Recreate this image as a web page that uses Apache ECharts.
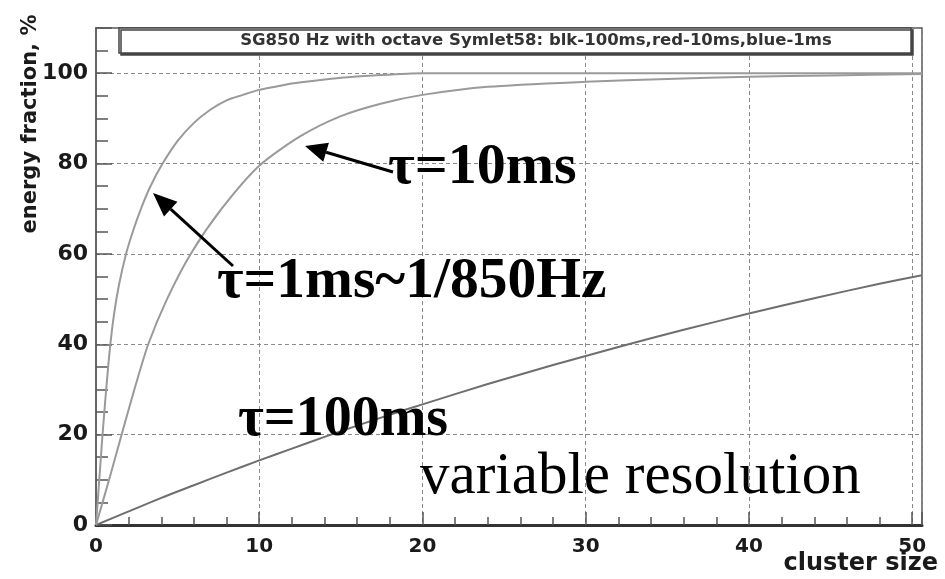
<!DOCTYPE html>
<html>
<head>
<meta charset="utf-8">
<script src="https://cdn.jsdelivr.net/npm/echarts@6/dist/echarts.min.js"></script>
<style>
  html, body { margin: 0; padding: 0; background: #fff; }
  #chart { width: 945px; height: 579px; }
</style>
</head>
<body>
<div id="chart"></div>
<script>
// Energy fraction captured vs. cluster size for three time scales
const tau1msX = [0, 0.2, 0.4, 0.6, 0.85, 1.1, 1.4, 1.84, 2.3, 2.8, 3.3, 4, 5, 6, 7, 8, 9, 10, 11, 12, 13.5, 15, 17, 20, 30, 40, 50.6];
const tau1msY = [0, 10, 20, 29, 39, 46.5, 53, 60, 65.4, 70.4, 74.7, 79.5, 85, 89, 91.9, 94, 95.2, 96.3, 97, 97.7, 98.4, 99.0, 99.5, 100, 100, 100, 100];

const tau10msX = [0, 0.8, 1.57, 2.35, 3.2, 4.35, 5.8, 7.7, 10, 12.5, 15, 17.5, 20, 24, 30, 35, 40, 45, 50.6];
const tau10msY = [0, 10, 20, 30, 40, 50, 60, 70, 79.5, 86, 90.5, 93.3, 95.2, 97, 98.1, 98.7, 99.2, 99.5, 99.8];

const tau100msX = [0, 2, 4, 6, 8, 10, 12, 14, 16, 18, 20, 24, 28, 32, 36, 40, 44, 48, 50.6];
const tau100msY = [0, 3.0, 6.0, 8.8, 11.6, 14.3, 16.9, 19.5, 22.0, 24.4, 26.7, 31.2, 35.4, 39.4, 43.2, 46.8, 50.2, 53.4, 55.3];

const xTickLabels = [0, 10, 20, 30, 40, 50];
const yTickLabels = [0, 20, 40, 60, 80, 100];

const titleText = 'SG850 Hz with octave Symlet58: blk-100ms,red-10ms,blue-1ms';
const xName = 'cluster size';
const yName = 'energy fraction, %';

const pairs = (xs, ys) => xs.map((x, i) => [x, ys[i]]);

const rootFont = '"DejaVu Sans", Arial, sans-serif';
const serifFont = '"Liberation Serif", "Times New Roman", serif';

// arrow: shaft from tail to tip, filled triangular head at the tip
function arrow(tail, tip, headLen, headHalf) {
  const dx = tip[0] - tail[0], dy = tip[1] - tail[1];
  const len = Math.hypot(dx, dy);
  const ux = dx / len, uy = dy / len;
  const bx = tip[0] - ux * headLen, by = tip[1] - uy * headLen;
  const nx = -uy * headHalf, ny = ux * headHalf;
  return [
    { type: 'line', shape: { x1: tail[0], y1: tail[1], x2: bx, y2: by },
      style: { stroke: '#000', lineWidth: 3 }, z: 100 },
    { type: 'polygon', shape: { points: [tip, [bx + nx, by + ny], [bx - nx, by - ny]] },
      style: { fill: '#000' }, z: 100 }
  ];
}

const chart = echarts.init(document.getElementById('chart'), null, { renderer: 'canvas' });

const option = {
  backgroundColor: '#fff',
  animation: false,
  grid: {
    left: 96, right: 23, top: 28, bottom: 54,
    show: true, borderColor: '#555', borderWidth: 1.5, backgroundColor: 'transparent'
  },
  xAxis: {
    type: 'value', min: 0, max: 50.6, interval: 10,
    axisLine: { lineStyle: { color: '#333', width: 3 } },
    axisTick: { inside: true, length: 13, lineStyle: { color: '#555', width: 1.5 } },
    minorTick: { show: true, splitNumber: 5, length: 8, lineStyle: { color: '#555', width: 1.5 } },
    splitLine: { show: true, lineStyle: { color: '#8a8a8a', width: 1, type: [4, 3] } },
    axisLabel: {
      margin: 12, color: '#1a1a1a', fontFamily: rootFont, fontWeight: 'bold', fontSize: 20,
      formatter: v => (xTickLabels.indexOf(v) >= 0 ? String(v) : '')
    }
  },
  yAxis: {
    type: 'value', min: 0, max: 110, interval: 20,
    axisLine: { show: true, lineStyle: { color: '#666', width: 2 } },
    axisTick: { show: true, inside: true, length: 16, lineStyle: { color: '#555', width: 1.5 } },
    minorTick: { show: true, splitNumber: 4, length: 12, lineStyle: { color: '#555', width: 1.5 } },
    splitLine: { show: true, lineStyle: { color: '#8a8a8a', width: 1, type: [4, 3] } },
    axisLabel: {
      margin: 8, color: '#1a1a1a', fontFamily: rootFont, fontWeight: 'bold', fontSize: 22,
      formatter: v => (yTickLabels.indexOf(v) >= 0 ? String(v) : '')
    }
  },
  series: [
    {
      name: '100ms', type: 'line', data: pairs(tau100msX, tau100msY),
      showSymbol: false, smooth: 0.25,
      lineStyle: { color: '#6e6e6e', width: 2 }, z: 5
    },
    {
      name: '10ms', type: 'line', data: pairs(tau10msX, tau10msY),
      showSymbol: false, smooth: 0.25,
      lineStyle: { color: '#9a9a9a', width: 2 }, z: 5
    },
    {
      name: '1ms', type: 'line', data: pairs(tau1msX, tau1msY),
      showSymbol: false, smooth: 0.25,
      lineStyle: { color: '#9a9a9a', width: 2 }, z: 5
    }
  ],
  graphic: [
    // title box with shadow
    { type: 'rect', shape: { x: 119, y: 28, width: 792, height: 25 },
      style: { fill: '#fff', stroke: '#444', lineWidth: 1.5,
               shadowColor: '#444', shadowOffsetX: 2, shadowOffsetY: 2, shadowBlur: 0 }, z: 50 },
    { type: 'text', x: 536, y: 41, z: 51,
      style: { text: titleText, fill: '#333', font: 'bold 16.5px ' + rootFont,
               textAlign: 'center', textVerticalAlign: 'middle' } },
    // axis titles
    { type: 'text', x: 31, y: 124, rotation: Math.PI / 2, z: 51,
      style: { text: yName, fill: '#1a1a1a', font: 'bold 21px ' + rootFont,
               textAlign: 'center', textVerticalAlign: 'middle' } },
    { type: 'text', x: 938, y: 576, z: 51,
      style: { text: xName, fill: '#1a1a1a', font: 'bold 24px ' + rootFont,
               textAlign: 'right', textVerticalAlign: 'bottom' } },
    // annotations
    { type: 'text', x: 388, y: 197, z: 101,
      style: { text: 'τ=10ms', fill: '#000', font: 'bold 58px ' + serifFont,
               textAlign: 'left', textVerticalAlign: 'bottom' } },
    { type: 'text', x: 217, y: 311, z: 101,
      style: { text: 'τ=1ms~1/850Hz', fill: '#000', font: 'bold 57.5px ' + serifFont,
               textAlign: 'left', textVerticalAlign: 'bottom' } },
    { type: 'text', x: 238, y: 449, z: 101,
      style: { text: 'τ=100ms', fill: '#000', font: 'bold 56px ' + serifFont,
               textAlign: 'left', textVerticalAlign: 'bottom' } },
    { type: 'text', x: 420, y: 507, z: 101,
      style: { text: 'variable resolution', fill: '#000', font: '59px ' + serifFont,
               textAlign: 'left', textVerticalAlign: 'bottom' } },
    ...arrow([393, 172], [305, 146], 22, 10),
    ...arrow([233, 266], [153, 193], 24, 10)
  ]
};

chart.setOption(option);
</script>
</body>
</html>
